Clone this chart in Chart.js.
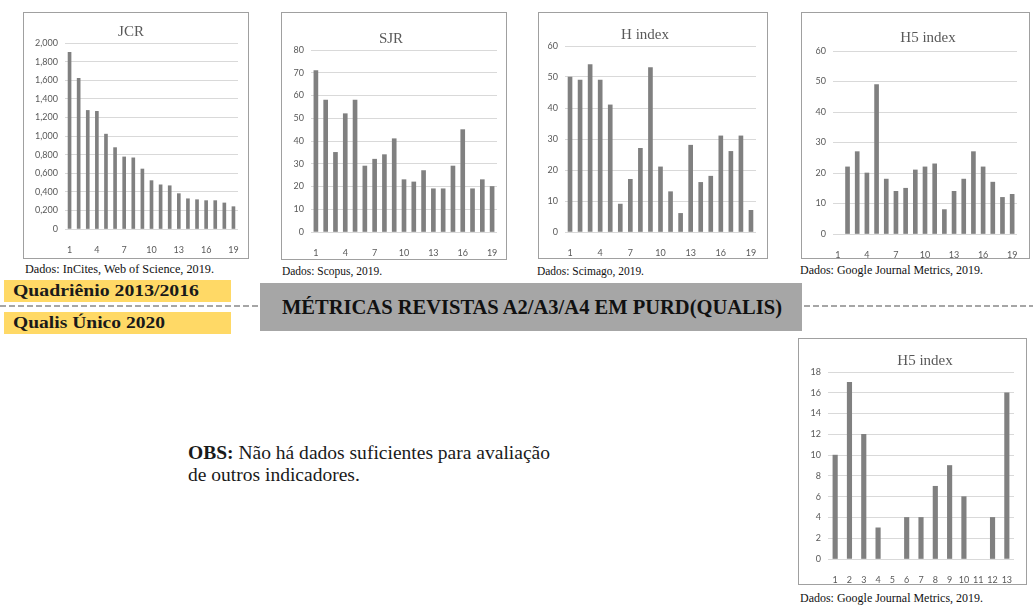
<!DOCTYPE html>
<html>
<head>
<meta charset="utf-8">
<script src="https://cdn.jsdelivr.net/npm/chart.js@4.4.1/dist/chart.umd.min.js"></script>
<style>
  body { margin: 0; width: 1033px; height: 606px; background: #fff; position: relative; overflow: hidden; font-family: "Liberation Serif", serif; color: #1a1a1a; }
  .box { position: absolute; border: 1px solid #a0a0a0; background: #fff; }
  .box canvas { display: block; }
  .cap { position: absolute; font-size: 12px; line-height: 13px; white-space: nowrap; color: #111; transform-origin: left center; }
  .tag { position: absolute; left: 4px; width: 227px; height: 22px; background: #ffd966; }
  .fit { position: absolute; display: inline-block; white-space: nowrap; transform-origin: left center; font-weight: bold; }
  .tag .fit { left: 9px; top: 1px; font-size: 17px; line-height: 20px; }
  .dash { position: absolute; top: 305px; height: 2px; background: repeating-linear-gradient(to right, #a6a6a6 0 6px, transparent 6px 9px); }
  #banner { position: absolute; left: 260px; top: 283px; width: 542px; height: 48px; background: #a6a6a6; }
  #banner .fit { left: 22px; top: 12px; font-size: 20px; line-height: 24px; color: #111; }
  #obs { position: absolute; left: 188px; top: 442px; font-size: 18px; line-height: 22px; }
  #obs span { display: block; white-space: nowrap; transform-origin: left center; }
</style>
</head>
<body>

<div class="box" style="left:23px;top:12px;"><canvas id="jcr" width="224" height="245"></canvas></div>
<div class="box" style="left:281px;top:12px;"><canvas id="sjr" width="224" height="246"></canvas></div>
<div class="box" style="left:538px;top:12px;"><canvas id="hidx" width="228" height="245"></canvas></div>
<div class="box" style="left:801px;top:12px;"><canvas id="h5" width="227" height="245"></canvas></div>
<div class="box" style="left:798px;top:338px;"><canvas id="h5b" width="227" height="245"></canvas></div>

<div class="cap" id="cap1" style="left:25px;top:263px;">Dados: InCites, Web of Science, 2019.</div>
<div class="cap" id="cap2" style="left:282px;top:265px;">Dados: Scopus, 2019.</div>
<div class="cap" id="cap3" style="left:537px;top:265px;">Dados: Scimago, 2019.</div>
<div class="cap" id="cap4" style="left:800px;top:264px;">Dados: Google Journal Metrics, 2019.</div>
<div class="cap" id="cap5" style="left:800px;top:592px;">Dados: Google Journal Metrics, 2019.</div>

<div class="dash" style="left:0;width:258px;"></div>
<div class="dash" style="left:804px;width:229px;"></div>
<div class="tag" style="top:280px;"><span class="fit" id="tag1">Quadriênio 2013/2016</span></div>
<div class="tag" style="top:312px;"><span class="fit" id="tag2">Qualis Único 2020</span></div>
<div id="banner"><span class="fit" id="bannerText">MÉTRICAS REVISTAS A2/A3/A4 EM PURD(QUALIS)</span></div>

<div id="obs"><span id="obs1"><b>OBS:</b> Não há dados suficientes para avaliação</span><span id="obs2">de outros indicadores.</span></div>

<script>
const labels19 = ['1','2','3','4','5','6','7','8','9','10','11','12','13','14','15','16','17','18','19'];
const labels13 = ['1','2','3','4','5','6','7','8','9','10','11','12','13'];

const jcrValues = [1.900, 1.620, 1.275, 1.265, 1.020, 0.875, 0.775, 0.765, 0.645, 0.520, 0.475, 0.465, 0.380, 0.325, 0.315, 0.305, 0.305, 0.280, 0.240];
const jcrTicks = ['0', '0,200', '0,400', '0,600', '0,800', '1,000', '1,200', '1,400', '1,600', '1,800', '2,000'];

const sjrValues = [71, 58, 35, 52, 58, 29, 32, 34, 41, 23, 22, 27, 19, 19, 29, 45, 19, 23, 20];
const sjrTicks = ['0', '10', '20', '30', '40', '50', '60', '70', '80'];

const hValues = [50, 49, 54, 49, 41, 9, 17, 27, 53, 21, 13, 6, 28, 16, 18, 31, 26, 31, 7];
const hTicks = ['0', '10', '20', '30', '40', '50', '60'];

// no bar for journal 1
const h5Values = [null, 22, 27, 20, 49, 18, 14, 15, 21, 22, 23, 8, 14, 18, 27, 22, 17, 12, 13];
const h5Ticks = ['0', '10', '20', '30', '40', '50', '60'];

// no bar for journals 5 and 11
const h5bValues = [10, 17, 12, 3, null, 4, 4, 7, 9, 6, null, 4, 16];
const h5bTicks = ['0', '2', '4', '6', '8', '10', '12', '14', '16', '18'];

function makeChart(id, cats, values, ticks, cfg) {
    // title drawn at a fixed spot, like the office chart
    const titlePlugin = {
        id: 'boxTitle',
        afterDraw(chart) {
            const c = chart.ctx;
            c.save();
            c.font = '15px "Liberation Serif"';
            c.fillStyle = '#595959';
            c.textAlign = 'center';
            c.textBaseline = 'middle';
            c.fillText(cfg.title, cfg.tx, cfg.ty);
            c.restore();
        }
    };
    new Chart(document.getElementById(id), {
        type: 'bar',
        data: {
            labels: cats,
            datasets: [{
                data: values,
                backgroundColor: '#808080',
                barThickness: cfg.bar
            }]
        },
        options: {
            responsive: false,
            animation: false,
            devicePixelRatio: 1,
            layout: { padding: { left: 0, right: cfg.padR, top: cfg.top, bottom: 0 } },
            plugins: { legend: { display: false }, tooltip: { enabled: false } },
            scales: {
                x: {
                    grid: { display: false },
                    border: { display: false },
                    ticks: {
                        autoSkip: false, maxRotation: 0, padding: 8,
                        color: '#595959', font: { family: 'Lato', size: 9 },
                        callback: (v, i) => (i % cfg.every === 0 ? cats[i] : '')
                    },
                    afterFit: s => { s.height = cfg.axisH; }
                },
                y: {
                    min: 0, max: cfg.max,
                    border: { display: false },
                    grid: { color: '#d9d9d9', drawTicks: false },
                    ticks: {
                        stepSize: cfg.step, padding: 7,
                        color: '#595959', font: { family: 'Lato', size: 9 },
                        callback: (v, i) => ticks[i]
                    },
                    afterFit: s => { s.width = cfg.yW; }
                }
            }
        },
        plugins: [titlePlugin]
    });
}

makeChart('jcr', labels19, jcrValues, jcrTicks, { max: 2, step: 0.2, yW: 41, padR: 10, top: 30, axisH: 29, title: 'JCR', tx: 107, ty: 19, every: 3, bar: 3 });
makeChart('sjr', labels19, sjrValues, sjrTicks, { max: 80, step: 10, yW: 29, padR: 9, top: 37, axisH: 27, title: 'SJR', tx: 109, ty: 26, every: 3, bar: 4 });
makeChart('hidx', labels19, hValues, hTicks, { max: 60, step: 10, yW: 26, padR: 11, top: 33, axisH: 26, title: 'H index', tx: 106, ty: 22, every: 3, bar: 4 });
makeChart('h5', labels19, h5Values, h5Ticks, { max: 60, step: 10, yW: 31, padR: 12, top: 38, axisH: 24, title: 'H5 index', tx: 126, ty: 25, every: 3, bar: 4 });
makeChart('h5b', labels13, h5bValues, h5bTicks, { max: 18, step: 2, yW: 29, padR: 12, top: 33, axisH: 25, title: 'H5 index', tx: 126, ty: 22, every: 1, bar: 4.5 });

function fitText(id, w) {
    const el = document.getElementById(id);
    const r = el.getBoundingClientRect().width;
    const k = w / r;
    el.style.transform = 'scaleX(' + k + ')';
    return k;
}
fitText('tag1', 186);
fitText('tag2', 152);
fitText('bannerText', 500);
fitText('cap1', 189);
fitText('cap2', 100);
fitText('cap3', 107);
fitText('cap4', 183);
fitText('cap5', 183);
const k = fitText('obs1', 362);
document.getElementById('obs2').style.transform = 'scaleX(' + k + ')';
</script>
</body>
</html>
